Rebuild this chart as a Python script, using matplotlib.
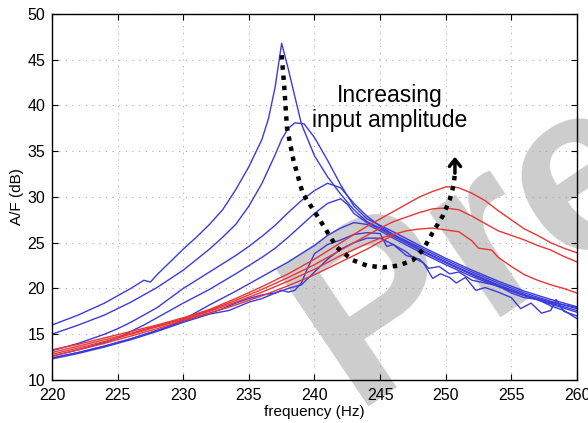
import matplotlib
matplotlib.use("Agg")
import matplotlib.pyplot as plt

plt.rcParams['font.family'] = ['Liberation Sans', 'DejaVu Sans']

# blue curves (lower amplitudes -> higher, sharper peak)
b1_f = [220, 222, 224, 225, 226, 227, 227.5, 228, 229, 230, 231, 232, 233, 234, 235, 236, 236.5, 237, 237.5,
        238, 238.5, 239, 240, 241, 242, 243, 244, 245, 246, 248, 250, 252, 254, 256, 258, 260]
b1_db = [16.0, 17.1, 18.4, 19.2, 20.0, 20.9, 20.7, 21.5, 22.9, 24.3, 25.6, 27.0, 28.6, 30.8, 33.3, 36.3, 38.6, 42.0, 46.8,
         44.0, 41.0, 38.0, 34.5, 32.2, 30.3, 28.6, 27.3, 26.6, 25.9, 24.5, 23.1, 21.8, 20.6, 19.5, 18.6, 17.8]

b2_f = [220, 222, 224, 225, 226, 228, 230, 232, 233, 234, 235, 236, 237, 237.5, 238, 238.5, 239.2,
        240, 241, 242, 243, 244, 245, 246, 248, 250, 252, 254, 256, 258, 260]
b2_db = [15.0, 16.0, 17.1, 17.8, 18.5, 20.1, 22.0, 24.3, 25.6, 27.0, 29.0, 31.5, 34.6, 36.3, 37.5, 38.1, 38.0,
         36.5, 34.0, 31.3, 29.0, 27.6, 26.9, 26.2, 24.7, 23.3, 22.0, 20.8, 19.7, 18.8, 18.0]

b3_f = [220, 222, 224, 225, 226, 228, 230, 232, 234, 235, 236, 237, 238, 239, 240, 241, 242,
        243, 244, 245, 246, 248, 250, 252, 254, 256, 258, 260]
b3_db = [13.2, 14.0, 15.0, 15.6, 16.3, 17.9, 20.0, 21.8, 23.6, 24.6, 25.7, 26.9, 28.3, 29.6, 30.7, 31.5, 31.0,
         29.3, 27.9, 26.8, 25.9, 24.3, 22.9, 21.6, 20.4, 19.3, 18.4, 17.6]

b4_f = [220, 222, 224, 225, 226, 227, 228, 230, 232, 234, 236, 237, 238, 239, 240, 241, 242, 242.5,
        243, 244, 245, 246, 248, 250, 252, 254, 256, 258, 260]
b4_db = [12.6, 13.3, 14.1, 14.6, 15.3, 16.0, 16.8, 18.4, 19.9, 21.6, 23.4, 24.4, 25.6, 26.9, 28.2, 29.3, 29.8, 29.2,
         28.2, 27.2, 26.5, 25.7, 24.2, 22.8, 21.5, 20.3, 19.3, 18.5, 17.9]

b5_f = [220, 222, 224, 226, 228, 229, 230, 231, 232, 234, 236, 238, 239, 240, 241, 242, 243,
        244, 245, 246, 248, 250, 252, 254, 256, 258, 260]
b5_db = [12.4, 13.0, 13.7, 14.5, 15.4, 15.9, 16.6, 17.4, 18.2, 19.7, 21.3, 22.9, 23.8, 24.7, 25.8, 26.6, 27.2,
         27.0, 26.3, 25.5, 24.0, 22.6, 21.3, 20.2, 19.2, 18.3, 17.4]

j1_f = [220, 222, 224, 226, 228, 230, 231, 232, 233, 234, 235, 236, 237, 237.5, 238, 238.5, 239, 239.5, 240,
        241, 242, 243, 244, 245, 245.5, 246, 247, 247.5, 248.3, 249, 249.6, 250.3, 250.8, 251.5, 252.3, 253,
        254, 255, 255.7, 256.5, 257.3, 258, 258.4, 259, 260]
j1_db = [12.4, 13.0, 13.7, 14.5, 15.4, 16.4, 16.9, 17.3, 17.8, 18.4, 18.9, 19.3, 19.5, 19.8, 19.6, 19.8, 20.6, 22.3, 23.8,
         24.8, 25.3, 25.9, 26.1, 26.0, 24.6, 24.8, 24.0, 23.4, 22.8, 21.1, 21.6, 21.2, 20.6, 21.2, 19.8, 20.1,
         19.6, 19.0, 17.8, 18.4, 17.3, 17.6, 18.8, 17.5, 17.0]

j2_f = [220, 222, 224, 226, 228, 230, 232, 233.5, 235, 236, 237, 238, 239, 240, 241, 242, 243, 244, 245,
        246, 247, 248, 248.7, 249.5, 250.3, 251, 252, 253, 254, 255, 256, 257, 258, 259, 260]
j2_db = [12.3, 12.9, 13.6, 14.4, 15.3, 16.3, 17.2, 17.6, 18.5, 18.9, 19.5, 20.0, 20.4, 21.8, 23.2, 24.3, 25.0, 25.5, 25.5,
         24.8, 23.6, 23.2, 22.2, 22.4, 21.6, 21.8, 20.9, 20.6, 20.3, 19.5, 19.0, 18.8, 18.1, 17.6, 16.7]

# red curves (highest amplitudes)
r1_f = [220, 222, 224, 226, 228, 230, 232, 234, 236, 238, 240, 242, 244, 245, 246, 247, 248, 249, 250, 250.5,
        251, 252, 253, 254, 255, 256, 257, 258, 259, 260]
r1_db = [13.3, 13.9, 14.6, 15.3, 16.0, 16.8, 17.7, 18.9, 20.2, 21.6, 23.2, 25.0, 26.8, 27.6, 28.4, 29.2, 30.0, 30.6, 31.1, 31.1,
         31.0, 30.4, 29.6, 28.5, 27.5, 26.5, 25.8, 25.0, 24.4, 23.9]

r2_f = [220, 222, 224, 226, 228, 230, 232, 234, 236, 238, 240, 242, 244, 245, 246, 247, 248, 249, 250,
        251, 252, 253, 254, 255, 256, 257, 258, 259, 260]
r2_db = [13.0, 13.7, 14.4, 15.1, 15.9, 16.7, 17.6, 18.7, 19.9, 21.2, 22.6, 24.2, 25.8, 26.6, 27.3, 27.8, 28.3, 28.7, 28.8,
         28.6, 27.9, 27.1, 26.3, 25.8, 25.3, 24.7, 24.2, 23.5, 22.9]

r3_f = [220, 222, 224, 226, 228, 230, 232, 234, 236, 238, 240, 242, 244, 245, 246, 247, 248, 249, 250,
        251, 252, 252.5, 253.5, 254, 255, 256, 257, 258, 259, 260]
r3_db = [12.8, 13.5, 14.2, 15.0, 15.8, 16.6, 17.5, 18.5, 19.6, 20.8, 22.1, 23.6, 24.9, 25.5, 25.9, 26.3, 26.5, 26.6, 26.4,
         26.2, 25.2, 24.4, 24.2, 23.4, 22.4, 21.5, 20.9, 20.4, 20.0, 19.5]

r4_f = [220, 222, 224, 226, 228, 230, 232, 234, 236, 238, 240, 242, 244, 245, 246]
r4_db = [12.6, 13.3, 14.0, 14.8, 15.6, 16.5, 17.3, 18.2, 19.2, 20.3, 21.5, 22.9, 24.3, 25.1, 25.8]

blue_curves = [(b1_f, b1_db), (b2_f, b2_db), (b3_f, b3_db), (b4_f, b4_db), (b5_f, b5_db), (j1_f, j1_db), (j2_f, j2_db)]
red_curves = [(r1_f, r1_db), (r2_f, r2_db), (r3_f, r3_db), (r4_f, r4_db)]

# dotted guide arrow
arrow_f = [237.5, 237.7, 237.9, 238.4, 239.1, 240.4, 241.7, 242.9, 244.0, 245.2, 246.4, 247.5, 248.3, 249.0,
           249.8, 250.3, 250.6, 250.7]
arrow_db = [45.5, 42.0, 37.6, 34.0, 30.4, 27.5, 24.5, 23.1, 22.5, 22.3, 22.5, 23.1, 24.3, 26.1,
            28.0, 29.7, 31.3, 32.6]

fig = plt.figure(figsize=(5.88, 4.23), dpi=100)
ax = fig.add_axes([0.0884, 0.1017, 0.8929, 0.8653])
ax.set_facecolor('none')

# watermark behind the axes
fig.text(0.6, 0.04, 'Pre', fontsize=172, rotation=34, rotation_mode='anchor', ha='left', va='baseline',
         color='#cdcdcd', fontweight='bold', zorder=-1)

for f, db in blue_curves:
    ax.plot(f, db, color='#3b3bdc', lw=1.0)
for f, db in red_curves:
    ax.plot(f, db, color='#e83535', lw=1.0)

ax.plot(arrow_f, arrow_db, color='black', lw=3.2, linestyle=(0, (1, 1.3)), dash_capstyle='butt')
ax.annotate('', xy=(arrow_f[-1], 34.4), xytext=(arrow_f[-1], arrow_db[-1]),
            arrowprops=dict(arrowstyle='->,head_length=0.5,head_width=0.4', lw=2.5, color='black',
                            shrinkA=0, shrinkB=0))

ax.text(245.7, 39.7, 'Increasing\ninput amplitude', ha='center', va='center', fontsize=16.5, linespacing=1.1)

ax.set_xlim(220, 260)
ax.set_ylim(10, 50)
ax.set_xticks(range(220, 261, 5))
ax.set_yticks(range(10, 51, 5))
ax.grid(True, linestyle=(0, (1, 5)), color='#aaaaaa', lw=0.8)
ax.tick_params(direction='in', top=True, right=True, labelsize=11.5, length=4)
ax.tick_params(axis='x', pad=6)
ax.tick_params(axis='y', pad=5)
for s in ax.spines.values():
    s.set_linewidth(1.0)
ax.set_xlabel('frequency (Hz)', fontsize=11, labelpad=1)
ax.set_ylabel('A/F (dB)', fontsize=11, labelpad=2)

fig.savefig('out.png', dpi=100)
